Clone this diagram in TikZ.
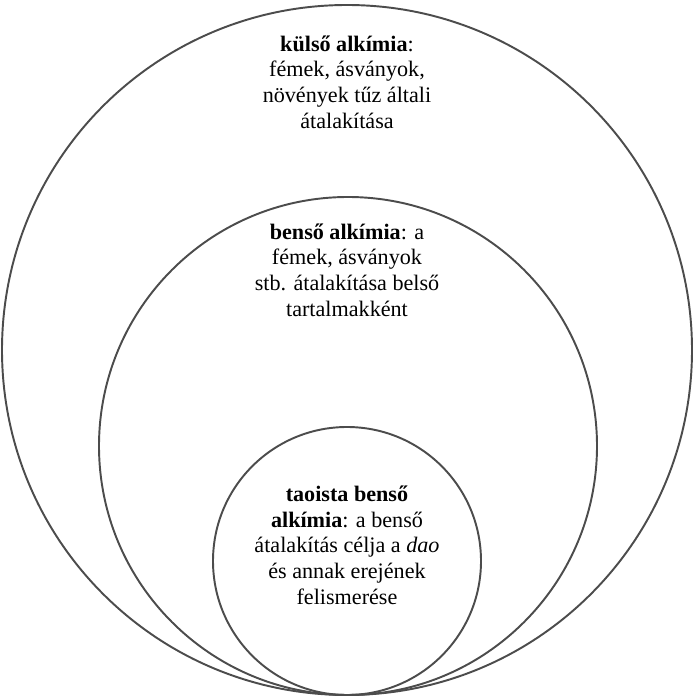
\documentclass[tikz,border=0pt]{standalone}
\usepackage{fontspec}
\setmainfont{Liberation Serif}
\usetikzlibrary{positioning}
\tikzset{ring/.style = {draw=black!70, line width=1.1pt},
         label/.style = {align=center, font=\fontsize{12.6}{14.6}\selectfont}}

\begin{document}
\begin{tikzpicture}
    \useasboundingbox (0, 0) rectangle (13.88, 13.94);
    \coordinate (outer) at (6.94, 6.94);
    \coordinate (middle) at (6.96, 5.02);
    \coordinate (inner) at (6.94, 2.72);
    \draw [ring] (outer) circle (6.9);
    \draw [ring] (middle) circle (4.98);
    \draw [ring] (inner) circle (2.68);
    \node (kulso) at (6.94, 12.3) [label] {\textbf{külső alkímia}:\\ fémek, ásványok,\\ növények tűz általi\\ átalakítása};
    \node (benso) at (6.94, 8.54) [label] {\textbf{benső alkímia}: a\\ fémek, ásványok\\ stb. átalakítása belső\\ tartalmakként};
    \node (taoista) at (6.94, 3.04) [label] {\textbf{taoista benső}\\ \textbf{alkímia}: a benső\\ átalakítás célja a \textit{dao}\\ és annak erejének\\ felismerése};
\end{tikzpicture}
\end{document}
